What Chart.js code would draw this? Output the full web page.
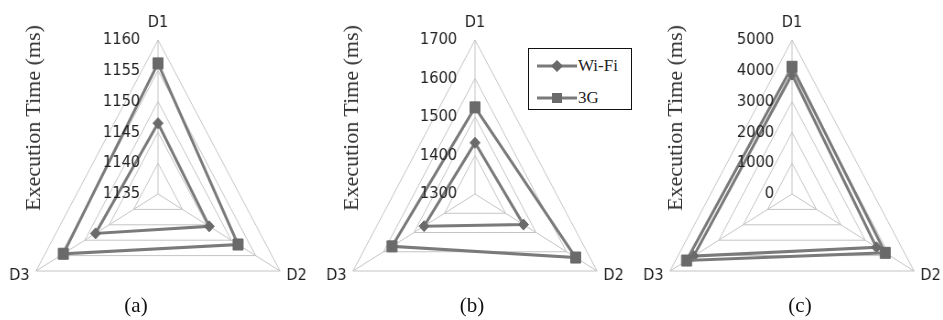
<!DOCTYPE html>
<html><head><meta charset="utf-8">
<script src="https://cdn.jsdelivr.net/npm/chart.js@4.4.1/dist/chart.umd.min.js"></script>
<style>
html,body{margin:0;padding:0;background:#fff;}
body{width:943px;height:320px;overflow:hidden;position:relative;}
.wrap{position:absolute;top:0;width:360px;height:320px;transform-origin:180px 0;transform:scaleX(0.915);}
.wrap canvas{display:block;}
.ytitle{position:absolute;font-family:"Liberation Serif",serif;font-size:22px;color:#333;white-space:nowrap;transform:translate(-50%,-50%) rotate(-90deg);}
.cap{position:absolute;font-family:"Liberation Serif",serif;font-size:21px;color:#111;transform:translate(-50%,-50%);}
.legend{position:absolute;left:528px;top:48px;width:104px;height:62px;box-sizing:border-box;border:1.5px solid #111;background:#fff;font-family:"Liberation Serif",serif;font-size:17px;color:#222;}
.legend .row{position:absolute;left:8px;height:20px;display:flex;align-items:center;}
.legend svg{display:block;margin-right:1px;}
</style></head>
<body>
<div class="wrap" id="wa" style="left:-22px"><canvas id="ca" width="360" height="320"></canvas></div>
<div class="wrap" id="wb" style="left:295px"><canvas id="cb" width="360" height="320"></canvas></div>
<div class="wrap" id="wc" style="left:612px"><canvas id="cc" width="360" height="320"></canvas></div>

<div class="ytitle" style="left:33px;top:118px">Execution Time (ms)</div>
<div class="ytitle" style="left:351px;top:118px">Execution Time (ms)</div>
<div class="ytitle" style="left:675px;top:118px">Execution Time (ms)</div>

<div class="legend" id="legend"></div>

<div class="cap" style="left:136px;top:305px">(a)</div>
<div class="cap" style="left:472px;top:305px">(b)</div>
<div class="cap" style="left:800px;top:305px">(c)</div>

<script>
// ---- data ----
const categories = ['D1', 'D2', 'D3'];
const seriesNames = ['Wi-Fi', '3G'];
const wifiA = [1146.5, 1145.5, 1147.8];
const g3A   = [1156.2, 1151.4, 1154.4];
const wifiB = [1433, 1459, 1467];
const g3B   = [1525, 1630, 1572];
const wifiC = [3880, 3460, 4030];
const g3C   = [4130, 3820, 4320];
const ticksA = [1135, 1140, 1145, 1150, 1155, 1160];
const ticksB = [1300, 1400, 1500, 1600, 1700];
const ticksC = [0, 1000, 2000, 3000, 4000, 5000];

// ---- styling ----
const LINE = '#7a7a7a';
const MARK = '#6a6a6a';
const GRID = '#c4c4c4';
const TEXT = '#222222';
const CX = 180, CY = 194, R = 154;

const tickLabelPlugin = {
  id: 'tickLabelPlugin',
  afterDraw(chart, args, opts) {
    const s = chart.scales.r;
    const ctx = chart.ctx;
    ctx.save();
    ctx.font = '16px "DejaVu Sans"';
    ctx.fillStyle = TEXT;
    ctx.textAlign = 'right';
    ctx.textBaseline = 'middle';
    opts.values.forEach(v => {
      const y = s.yCenter - s.getDistanceFromCenterForValue(v);
      ctx.fillText(String(v), s.xCenter - 19.5, y);
    });
    ctx.restore();
  }
};

function makeChart(id, wifi, g3, ticks) {
  const step = ticks[1] - ticks[0];
  return new Chart(document.getElementById(id), {
    type: 'radar',
    data: {
      labels: categories,
      datasets: [
        { label: seriesNames[0], data: wifi, order: 1, fill: false,
          borderColor: LINE, borderWidth: 3, backgroundColor: MARK,
          pointStyle: 'rectRot', pointRadius: 5.5, pointBackgroundColor: MARK,
          pointBorderColor: MARK, pointBorderWidth: 1 },
        { label: seriesNames[1], data: g3, order: 0, fill: false,
          borderColor: LINE, borderWidth: 3, backgroundColor: MARK,
          pointStyle: 'rect', pointRadius: 7.8, pointBackgroundColor: MARK,
          pointBorderColor: MARK, pointBorderWidth: 1 }
      ]
    },
    options: {
      responsive: false,
      devicePixelRatio: 1,
      animation: false,
      events: [],
      layout: { padding: 0 },
      plugins: {
        legend: { display: false },
        tooltip: { enabled: false },
        tickLabelPlugin: { values: ticks }
      },
      elements: { line: { tension: 0 } },
      scales: {
        r: {
          min: ticks[0],
          max: ticks[ticks.length - 1],
          ticks: { stepSize: step, display: false },
          grid: { color: GRID, lineWidth: 1, circular: false },
          angleLines: { display: true, color: GRID, lineWidth: 1 },
          pointLabels: { display: true, padding: 8, color: TEXT,
                         font: { family: 'DejaVu Sans', size: 16 } },
          beforeFit: (s) => {
            s.xCenter = CX; s.yCenter = CY; s.drawingArea = R;
            s.setCenterPoint = function () {};
          },
          afterFit: (s) => {
            const items = s._pointLabelItems;
            if (!items) return;
            for (let i = 1; i < items.length; i++) {
              const it = items[i];
              it.y -= 9; it.top -= 9; it.bottom -= 9;
            }
          }
        }
      }
    },
    plugins: [tickLabelPlugin]
  });
}

makeChart('ca', wifiA, g3A, ticksA);
makeChart('cb', wifiB, g3B, ticksB);
makeChart('cc', wifiC, g3C, ticksC);

// ---- legend (HTML) ----
const legend = document.getElementById('legend');
const markers = [
  '<polygon points="20,2 26,8 20,14 14,8" fill="' + MARK + '"/>',
  '<rect x="15" y="3" width="10" height="10" fill="' + MARK + '"/>'
];
seriesNames.forEach((name, i) => {
  const row = document.createElement('div');
  row.className = 'row';
  row.style.top = (i === 0 ? 7 : 39) + 'px';
  row.innerHTML = '<svg width="40" height="16" viewBox="0 0 40 16"><line x1="0" y1="8" x2="40" y2="8" stroke="' + LINE + '" stroke-width="3"/>' + markers[i] + '</svg><span>' + name + '</span>';
  legend.appendChild(row);
});
</script>
</body></html>
